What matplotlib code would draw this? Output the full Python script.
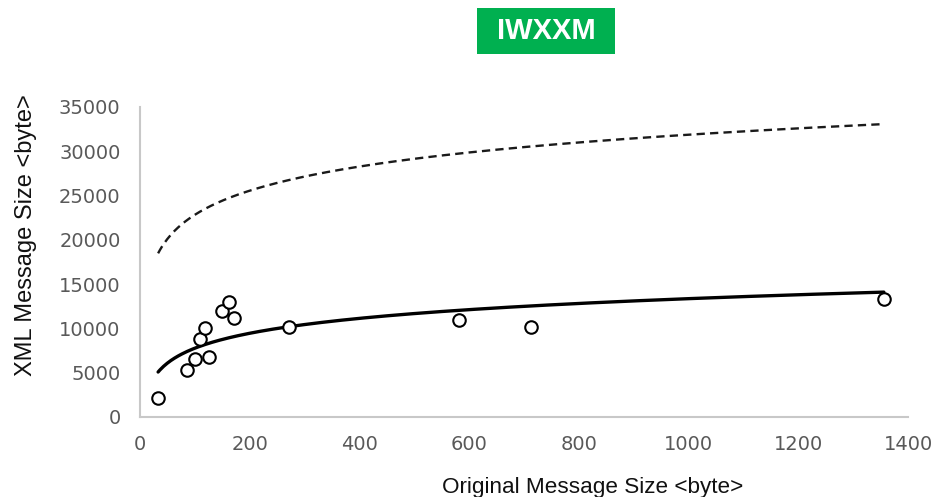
import numpy as np
import matplotlib
matplotlib.use("Agg")
import matplotlib.pyplot as plt
from matplotlib.patches import Rectangle

# Data
orig_size = [33, 85, 101, 110, 118, 126, 149, 162, 172, 271, 582, 713, 1356]
xml_size = [2100, 5300, 6550, 8770, 10000, 6800, 11950, 12980, 11200, 10190, 10950, 10190, 13320]

# Logarithmic trend coefficients (y = a*ln(x) + b)
trend_solid = (2428, -3411)
trend_dashed = (3927, 4747)
trend_range = (33, 1356)

x_ticks = [0, 200, 400, 600, 800, 1000, 1200, 1400]
y_ticks = [0, 5000, 10000, 15000, 20000, 25000, 30000, 35000]
title = "IWXXM"
xlabel = "Original Message Size <byte>"
ylabel = "XML Message Size <byte>"

fig = plt.figure(figsize=(9.39, 4.97), dpi=100)
ax = fig.add_axes([140/939, 1-417/497, (908-140)/939, (417-107)/497])

xs = np.linspace(trend_range[0], trend_range[1], 400)
ax.plot(xs, trend_dashed[0]*np.log(xs) + trend_dashed[1], color="#1a1a1a",
        lw=1.7, dashes=(3.5, 2.2), zorder=2)
ax.plot(xs, trend_solid[0]*np.log(xs) + trend_solid[1], color="black",
        lw=2.4, solid_capstyle="round", zorder=2)
ax.plot(orig_size, xml_size, linestyle="none", marker="o", markersize=9,
        markerfacecolor="white", markeredgecolor="black", markeredgewidth=1.5, zorder=3)

ax.set_xlim(0, 1400)
ax.set_ylim(0, 35000)
ax.set_xticks(x_ticks)
ax.set_yticks(y_ticks)
ax.tick_params(length=0, labelsize=14, labelcolor="#595959")
ax.tick_params(axis="y", pad=14)
ax.tick_params(axis="x", pad=13)
for s in ["top", "right"]:
    ax.spines[s].set_visible(False)
for s in ["left", "bottom"]:
    ax.spines[s].set_color("#c8c8c8")
    ax.spines[s].set_linewidth(1.5)

ax.set_xlabel(xlabel, fontsize=16.2, family="Liberation Sans", color="#111111")
ax.set_ylabel(ylabel, fontsize=17, family="Liberation Sans", labelpad=16, color="#111111")
ax.xaxis.set_label_coords(0.589, -0.192)
ax.yaxis.label.set_y(0.587)

fig.patches.append(Rectangle((477/939, 1-54/497), 138/939, 46/497,
                             transform=fig.transFigure, facecolor="#00B050",
                             edgecolor="none"))
fig.text(546/939, 1-31/497, title, ha="center", va="center", color="white",
         fontsize=21, fontweight="bold", family="Liberation Sans")

fig.savefig("out.png", dpi=100, facecolor="white")
